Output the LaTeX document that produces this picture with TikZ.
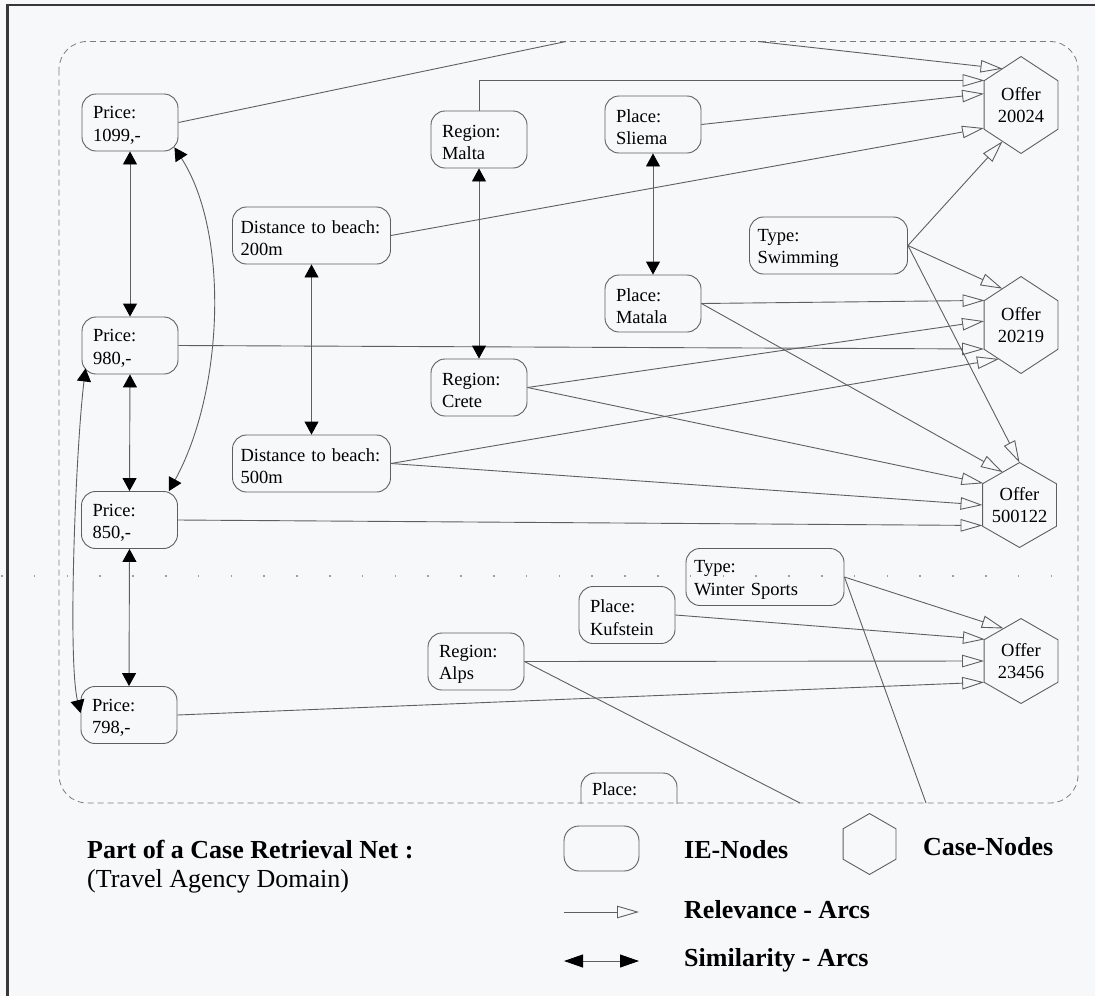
\documentclass[tikz,border=0pt]{standalone}
\usepackage{fontspec}
\setmainfont{Liberation Serif}
\usetikzlibrary{arrows.meta}

\definecolor{paper}{RGB}{247,248,250}
\definecolor{linegray}{RGB}{95,95,95}
\definecolor{framegray}{RGB}{55,55,55}
\definecolor{dashgray}{RGB}{125,125,125}
\definecolor{dotgray}{RGB}{160,160,160}

\newcommand\netfont{\fontsize{18.5pt}{22.5pt}\selectfont}
\newcommand\legendfont{\fontsize{26pt}{30pt}\selectfont}
\newcommand\firstlinestrut{\rule{0pt}{18pt}}

% Case node: hexagon with vertical sides and pointed top/bottom,
% filling the rectangle given by minimum width/height.
\makeatletter
\pgfdeclareshape{hexcase}{%
  \inheritsavedanchors[from=rectangle]%
  \inheritanchor[from=rectangle]{center}%
  \inheritanchor[from=rectangle]{text}%
  \inheritanchor[from=rectangle]{base}%
  \inheritanchor[from=rectangle]{mid}%
  \inheritanchor[from=rectangle]{north}%
  \inheritanchor[from=rectangle]{south}%
  \inheritanchor[from=rectangle]{east}%
  \inheritanchor[from=rectangle]{west}%
  \backgroundpath{%
    \southwest \edef\crn@xa{\the\pgf@x}\edef\crn@ya{\the\pgf@y}%
    \northeast \edef\crn@xb{\the\pgf@x}\edef\crn@yb{\the\pgf@y}%
    \pgfmathsetmacro\crn@xm{0.5*(\crn@xa)+0.5*(\crn@xb)}%
    \pgfmathsetmacro\crn@yu{0.25*(\crn@ya)+0.75*(\crn@yb)}%
    \pgfmathsetmacro\crn@yl{0.75*(\crn@ya)+0.25*(\crn@yb)}%
    \pgfpathmoveto{\pgfpoint{\crn@xm pt}{\crn@yb}}%
    \pgfpathlineto{\pgfpoint{\crn@xb}{\crn@yu pt}}%
    \pgfpathlineto{\pgfpoint{\crn@xb}{\crn@yl pt}}%
    \pgfpathlineto{\pgfpoint{\crn@xm pt}{\crn@ya}}%
    \pgfpathlineto{\pgfpoint{\crn@xa}{\crn@yl pt}}%
    \pgfpathlineto{\pgfpoint{\crn@xa}{\crn@yu pt}}%
    \pgfpathclose
  }%
  \anchorborder{%
    \edef\crn@dx{\the\pgf@x}\edef\crn@dy{\the\pgf@y}%
    \southwest \edef\crn@xa{\the\pgf@x}\edef\crn@ya{\the\pgf@y}%
    \northeast \edef\crn@xb{\the\pgf@x}\edef\crn@yb{\the\pgf@y}%
    \pgfmathsetmacro\crn@a{0.5*((\crn@xb)-(\crn@xa))}%
    \pgfmathsetmacro\crn@b{0.5*((\crn@yb)-(\crn@ya))}%
    \pgfmathsetmacro\crn@ax{max(abs(\crn@dx),0.01)}%
    \pgfmathsetmacro\crn@den{max(abs(\crn@dy)+0.5*(\crn@b)/(\crn@a)*abs(\crn@dx),0.01)}%
    \pgfmathsetmacro\crn@t{min((\crn@a)/(\crn@ax),(\crn@b)/(\crn@den))}%
    \pgfmathsetmacro\crn@rx{0.5*((\crn@xa)+(\crn@xb))+(\crn@t)*(\crn@dx)}%
    \pgfmathsetmacro\crn@ry{0.5*((\crn@ya)+(\crn@yb))+(\crn@t)*(\crn@dy)}%
    \pgf@x=\crn@rx pt\relax
    \pgf@y=\crn@ry pt\relax
  }%
}
\makeatother

\tikzset{
  reltip/.tip={Triangle[open,length=22pt,width=12.5pt]},
  simtip/.tip={Triangle[length=13pt,width=14pt,color=black]},
  simbigtip/.tip={Triangle[length=19pt,width=13pt,color=black]},
  ienode/.style={draw=linegray, line width=0.9pt, rounded corners=14pt,
    minimum height=57pt, inner xsep=11pt, inner ysep=0pt, text width=74pt,
    align=left, font=\netfont, execute at begin node=\firstlinestrut},
  ienodewide/.style={ienode, inner xsep=8pt, text width=142pt},
  casenode/.style={shape=hexcase, draw=linegray, line width=0.9pt,
    minimum width=73pt, inner sep=0pt, align=center, font=\netfont},
  relarc/.style={draw=linegray, line width=0.9pt, -reltip},
  simarc/.style={draw=linegray, line width=0.9pt, simtip-simtip},
  plainarc/.style={draw=linegray, line width=0.9pt},
  legtext/.style={inner sep=0pt, anchor=base west, font=\legendfont\bfseries},
}

\begin{document}
\begin{tikzpicture}[x=1pt,y=-1pt]
\useasboundingbox (0,0) rectangle (1095,996);
\fill[paper] (0,0) rectangle (1095,996);

% page frame (top and left rules)
\draw[framegray, line width=2.5pt] (1095,5) -- (7.5,5) -- (7.5,996);

% border of the shown part of the net
\draw[dashgray, line width=0.8pt, dash pattern=on 6pt off 4pt, rounded corners=28pt]
  (59,41.5) rectangle (1078,803);

% dotted separator
\draw[dotgray, line width=1.6pt, dash pattern=on 1.6pt off 31.2pt]
  (1,576) -- (1055,576);

% information entity nodes
\node[ienode] (p1099) at (130,122.5) {Price:\\1099,-};
\node[ienode] (p980) at (130,345.5) {Price:\\980,-};
\node[ienode] (p850) at (129.5,520) {Price:\\850,-};
\node[ienode] (p798) at (129,715) {Price:\\798,-};
\node[ienodewide] (d200) at (311.5,235.5) {Distance to beach:\\200m};
\node[ienodewide] (d500) at (311.5,463.5) {Distance to beach:\\500m};
\node[ienode] (malta) at (479,139.5) {Region:\\Malta};
\node[ienode] (crete) at (479,387.5) {Region:\\Crete};
\node[ienode] (alps) at (476,661.5) {Region:\\Alps};
\node[ienode] (sliema) at (653,124.5) {Place:\\Sliema};
\node[ienode] (matala) at (653,303.5) {Place:\\Matala};
\node[ienode] (kuf) at (627,615) {Place:\\Kufstein};
\node[ienodewide] (swim) at (828.5,245.5) {Type:\\Swimming};
\node[ienodewide] (winter) at (765,577) {Type:\\Winter Sports};
\begin{scope}
  \clip (0,0) rectangle (1095,803);
  \node[ienode] (placeZ) at (629,801.5) {Place:\\\strut};
\end{scope}

% case nodes
\node[casenode, minimum height=96pt] (o1) at (1021,105) {Offer\\20024};
\node[casenode, minimum height=96pt] (o2) at (1021,325) {Offer\\20219};
\node[casenode, minimum height=84pt] (o3) at (1019.5,505) {Offer\\500122};
\node[casenode, minimum height=84pt] (o4) at (1021,661) {Offer\\23456};

% arcs leaving / entering the shown part
\coordinate (topexit) at (566,41.5);
\coordinate (topentry) at (758,41.5);
\coordinate (alpsexit) at (800,803);
\coordinate (winterexit) at (926,803);
\draw[plainarc] (p1099.east) -- (topexit);
\draw[relarc] (topentry) -- (o1.117);
\draw[plainarc] (alps.east) -- (alpsexit);
\draw[plainarc] (winter.east) -- (winterexit);

% relevance arcs
\draw[relarc] (malta.north) |- (o1.146);
\draw[relarc] (sliema.east) -- (o1.163);
\draw[relarc] (d200.east) -- (o1.212);
\draw[relarc] (swim.east) -- (o1.243);

\draw[relarc] (swim.east) -- (o2.117);
\draw[relarc] (matala.east) -- (o2.146);
\draw[relarc] (crete.east) -- (o2.174);
\draw[relarc] (p980.east) -- (o2.213);
\draw[relarc] (d500.east) -- (o2.237);

\draw[relarc] (swim.east) -- (o3.north);
\draw[relarc] (matala.east) -- (o3.117);
\draw[relarc] (crete.east) -- (o3.149);
\draw[relarc] (d500.east) -- (o3.180);
\draw[relarc] (p850.east) -- (o3.209);

\draw[relarc] (winter.east) -- (o4.118);
\draw[relarc] (kuf.east) -- (o4.149);
\draw[relarc] (alps.east) -- (o4.180);
\draw[relarc] (p798.east) -- (o4.210);

% similarity arcs
\draw[simarc] (p1099.south) -- (p980.north);
\draw[simarc] (p980.south) -- (p850.north);
\draw[simarc] (p850.south) -- (p798.north);
\draw[simarc] (d200.south) -- (d500.north);
\draw[simarc] (malta.south) -- (crete.north);
\draw[simarc] (sliema.south) -- (matala.north);
\draw[simarc] ([xshift=-4pt,yshift=4pt]p1099.south east)
  .. controls +(55,85) and +(55,-100) .. ([xshift=-9pt]p850.north east);
\draw[simarc] ([xshift=4pt,yshift=6pt]p980.south west)
  .. controls +(-10,82) and +(-13,-53) .. ([yshift=2pt]p798.west);

% legend
\node[legtext] (title) at (87,858.5) {Part of a Case Retrieval Net :};
\node[legtext, font=\legendfont] (subtitle) at (87,887) {(Travel Agency Domain)};
\node[draw=linegray, line width=0.9pt, rounded corners=15pt, minimum width=75pt,
  minimum height=45pt, inner sep=0pt] (legIE) at (601.5,848.5) {};
\node[legtext] (legIEtext) at (684,858) {IE-Nodes};
\node[casenode, minimum width=52pt, minimum height=60pt] (legCase) at (869.5,844) {};
\node[legtext] (legCasetext) at (923,855.5) {Case-Nodes};
\coordinate (relA) at (564,912);
\coordinate (relB) at (639,912);
\draw[relarc] (relA) -- (relB);
\node[legtext] (legReltext) at (684,918.5) {Relevance - Arcs};
\coordinate (simA) at (564,961);
\coordinate (simB) at (639,961);
\draw[draw=linegray, line width=0.9pt, simbigtip-simbigtip] (simA) -- (simB);
\node[legtext] (legSimtext) at (684,966) {Similarity - Arcs};
\end{tikzpicture}
\end{document}
